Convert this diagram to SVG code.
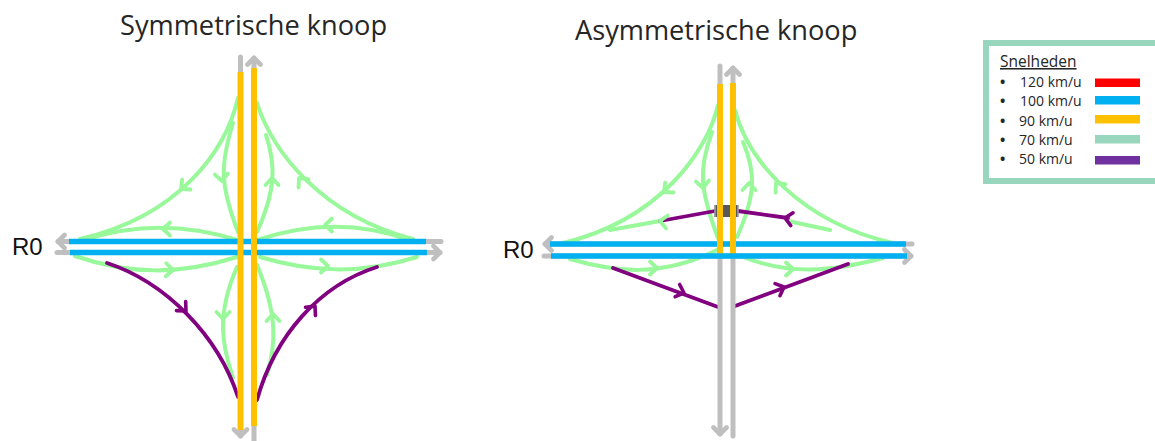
<svg xmlns="http://www.w3.org/2000/svg" width="1155" height="441" viewBox="0 0 1155 441">
<style>
.g,.p,.gc,.pc{fill:none;stroke-linecap:round;stroke-linejoin:round}
.g{stroke:#98F89A;stroke-width:4}
.p{stroke:#800080;stroke-width:3.8}
.gc{stroke:#98F89A;stroke-width:3.8}
.pc{stroke:#800080;stroke-width:3.6}
.road{fill:none;stroke:#BFBFBF;stroke-width:5;stroke-linecap:round}
.y{fill:none;stroke:#FFC000;stroke-width:6}
.b{fill:none;stroke:#00B0F0;stroke-width:5.4}
.t{font-family:"Open Sans","Noto Sans","Liberation Sans",sans-serif;fill:#262626}
.title{font-size:27.2px}
.r{font-family:"Liberation Sans",Arial,sans-serif;font-size:24px;fill:#111}
.l{font-size:14px}
.bu{font-weight:700}
</style>
<defs>
<marker id="ah" viewBox="-11 -11 14 22" refX="0" refY="0" markerWidth="14" markerHeight="22" markerUnits="userSpaceOnUse" orient="auto">
<path d="M-6.500,-6.500 L0,0 L-6.500,6.500" fill="none" stroke="#BFBFBF" stroke-width="4.600" stroke-linecap="round" stroke-linejoin="round"/>
</marker>
<path id="c" d="M-7,-6.500 L0,0 L-7,6.500"/>
</defs>

<g id="title-sym"><text class="t title" x="120" y="35">Symmetrische knoop</text></g>
<g id="title-asym"><text class="t title" x="575" y="40">Asymmetrische knoop</text></g>
<g id="label-r0-sym"><text class="r" x="12" y="255">R0</text></g>
<g id="label-r0-asym"><text class="r" x="503" y="258">R0</text></g>

<g id="connectors">
<g id="ramps-sym">
<path class="g" d="M238,98C226,150 180,216 80,239"/>
<path class="g" d="M233,123C220,165 220,185 238,232"/>
<path class="g" d="M84,240C130,225 180,222 237,240"/>
<path class="g" d="M257,103C272,150 320,215 413,239"/>
<path class="g" d="M266,135C276,165 276,190 257,232"/>
<path class="g" d="M257,240C310,222 360,222 410,240"/>
<path class="g" d="M75,256C130,275 180,275 237,257"/>
<path class="g" d="M237,267C216,315 222,345 233,378"/>
<path class="g" d="M257,265C278,315 276,345 267,375"/>
<path class="g" d="M260,257C310,272 360,275 417,257"/>
<path class="p" d="M107,263C165,282 218,335 238,397"/>
<path class="p" d="M377,267C320,285 275,335 257,400"/>
<use href="#c" class="gc" transform="translate(181,189) rotate(140)"/>
<use href="#c" class="gc" transform="translate(222,181) rotate(85)"/>
<use href="#c" class="gc" transform="translate(163,229) rotate(180)"/>
<use href="#c" class="gc" transform="translate(272,178) rotate(-90)"/>
<use href="#c" class="gc" transform="translate(299,178) rotate(-130)"/>
<use href="#c" class="gc" transform="translate(325,225) rotate(180)"/>
<use href="#c" class="gc" transform="translate(173,270) rotate(2)"/>
<use href="#c" class="gc" transform="translate(223,319) rotate(90)"/>
<use href="#c" class="gc" transform="translate(273,314) rotate(-90)"/>
<use href="#c" class="gc" transform="translate(328,266)"/>
<use href="#c" class="pc" transform="translate(186,311) rotate(45)"/>
<use href="#c" class="pc" transform="translate(315,306) rotate(-50)"/>
</g>
<g id="roads-sym">
<path class="road" d="M240.500,57V436" marker-end="url(#ah)"/>
<path class="road" d="M254,442V58" marker-end="url(#ah)"/>
<path class="road" d="M441,241.500H58" marker-end="url(#ah)"/>
<path class="road" d="M57,252.500H440" marker-end="url(#ah)"/>
<path class="b" d="M69,241.500H426M70,252.500H427"/>
<path class="y" d="M240.500,72V430M254,68V426"/>
</g>
<g id="ramps-asym">
<path class="g" d="M718,105C708,150 660,220 563,243"/>
<path class="g" d="M712,132C698,170 700,190 718,238"/>
<path class="g" d="M610,230L660,221"/>
<path class="g" d="M735,110C748,160 800,222 893,243"/>
<path class="g" d="M743,142C756,172 756,195 737,237"/>
<path class="g" d="M788,221L830,230"/>
<path class="g" d="M570,259C615,272 660,278 717,250"/>
<path class="g" d="M743,257C790,275 830,272 883,258"/>
<path class="p" d="M660,221L715,211"/>
<path class="p" d="M738,211L788,218"/>
<path class="p" d="M613,268L718,307"/>
<path class="p" d="M735,306L848,264"/>
<use href="#c" class="gc" transform="translate(664,192) rotate(140)"/>
<use href="#c" class="gc" transform="translate(703,188) rotate(85)"/>
<use href="#c" class="gc" transform="translate(660,221) rotate(188)"/>
<use href="#c" class="gc" transform="translate(749,183) rotate(-90)"/>
<use href="#c" class="gc" transform="translate(776,183) rotate(-130)"/>
<use href="#c" class="gc" transform="translate(657,268)"/>
<use href="#c" class="gc" transform="translate(793,269)"/>
<use href="#c" class="pc" transform="translate(684,293) rotate(20)"/>
<use href="#c" class="pc" transform="translate(784,287) rotate(-22)"/>
<use href="#c" class="pc" transform="translate(785,218) rotate(190)"/>
</g>
<g id="roads-asym">
<path class="road" d="M720,66V434" marker-end="url(#ah)"/>
<path class="road" d="M733,436V68" marker-end="url(#ah)"/>
<path class="road" d="M912,244H545" marker-end="url(#ah)"/>
<path class="road" d="M544,256H911" marker-end="url(#ah)"/>
<rect x="714.500" y="205" width="23.500" height="12" fill="#595959"/>
<path d="M715,205V217M738,205V217" stroke="#A0A0A0" stroke-width="1.500"/>
<path class="b" d="M550,244H906"/>
<path class="y" d="M720,84V255M733,83V255"/>
<path class="b" d="M551,256H907"/>
</g>
</g>

<g id="legend">
<rect x="986" y="43" width="180" height="138" fill="#fff" stroke="#99D6BE" stroke-width="6"/>
<text class="t" font-size="15.500" x="1000" y="67" text-decoration="underline">Snelheden</text>
<g class="t l">
<text y="87"><tspan class="bu" x="1000">•</tspan><tspan x="1020">120 km/u</tspan></text>
<text y="106"><tspan class="bu" x="1000">•</tspan><tspan x="1020">100 km/u</tspan></text>
<text y="125.500"><tspan class="bu" x="1000">•</tspan><tspan x="1019">90 km/u</tspan></text>
<text y="144.500"><tspan class="bu" x="1000">•</tspan><tspan x="1019">70 km/u</tspan></text>
<text y="164"><tspan class="bu" x="1000">•</tspan><tspan x="1019">50 km/u</tspan></text>
</g>
<rect x="1095" y="78.500" width="45" height="8.500" fill="#FF0000"/>
<rect x="1095" y="96" width="45" height="8.500" fill="#00B0F0"/>
<rect x="1095" y="115" width="45" height="8.500" fill="#FFC000"/>
<rect x="1095" y="135" width="45" height="8.500" fill="#99D6BE"/>
<rect x="1095" y="156" width="45" height="8.500" fill="#7030A0"/>
</g>
</svg>
